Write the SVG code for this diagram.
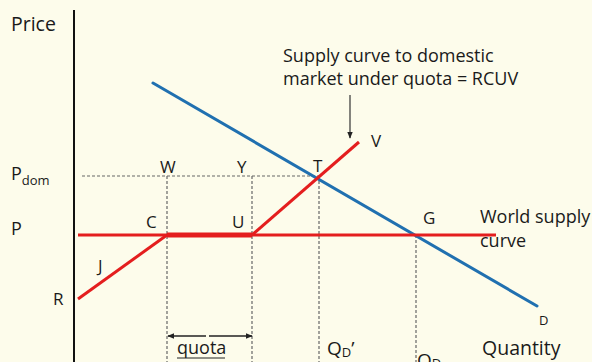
<svg xmlns="http://www.w3.org/2000/svg" width="592" height="362" viewBox="0 0 592 362">
<style>
text{font-family:"Open Sans","Liberation Sans",sans-serif;fill:#1a1a1a}
.lbl{font-size:18px}
.pt{font-size:17px}
.big{font-size:19.5px}
.dash{stroke:#666;stroke-width:1.2;stroke-dasharray:3 2;fill:none}
.red{stroke:#E41E1E;stroke-width:3;fill:none}
.blue{stroke:#2070B0;stroke-width:3;fill:none;stroke-linecap:round}
</style>
<defs>
<marker id="ah" viewBox="0 0 10 10" refX="9" refY="5" markerWidth="7" markerHeight="7" orient="auto-start-reverse" markerUnits="userSpaceOnUse">
<path d="M0,1 L10,5 L0,9 z" fill="#222"/>
</marker>
</defs>
<rect width="592" height="362" fill="#FDFCEB"/>
<g id="axes">
<line x1="74" y1="10" x2="74" y2="362" stroke="#111" stroke-width="2"/>
<text x="11" y="31" class="big">Price</text>
<text x="482" y="355" class="big">Quantity</text>
</g>
<g id="guides">
<line class="dash" x1="82" y1="176" x2="319" y2="176"/>
<line class="dash" x1="167" y1="176" x2="167" y2="362"/>
<line class="dash" x1="252" y1="176" x2="252" y2="362"/>
<line class="dash" x1="319" y1="176" x2="319" y2="362"/>
<line class="dash" x1="416" y1="235" x2="416" y2="362"/>
</g>
<g id="demand">
<line class="blue" x1="153" y1="83" x2="537" y2="306"/>
<text x="539" y="325" font-size="13">D</text>
</g>
<g id="world-supply">
<line class="red" x1="78" y1="235" x2="496" y2="235"/>
<text x="480" y="223" class="lbl">World supply</text>
<text x="480" y="247" class="lbl">curve</text>
</g>
<g id="quota-supply">
<line class="red" x1="78" y1="299" x2="167" y2="235"/>
<line x1="167" y1="235" x2="252" y2="235" stroke="#E41E1E" stroke-width="5"/>
<line class="red" x1="252" y1="235" x2="359" y2="142"/>
</g>
<g id="callout">
<text x="283" y="62" class="lbl">Supply curve to domestic</text>
<text x="283" y="85" class="lbl">market under quota = RCUV</text>
<line x1="350" y1="95" x2="350" y2="138" stroke="#333" stroke-width="1.2" marker-end="url(#ah)"/>
</g>
<g id="quota">
<line x1="168" y1="336" x2="206" y2="336" stroke="#222" stroke-width="1.5" marker-start="url(#ah)"/>
<line x1="209" y1="336" x2="252" y2="336" stroke="#222" stroke-width="1.5" marker-end="url(#ah)"/>
<text x="177" y="354" class="lbl">quota</text>
<line x1="177" y1="358" x2="225" y2="358" stroke="#222" stroke-width="1.2"/>
</g>
<g id="points">
<text x="11" y="180" class="lbl">P<tspan font-size="13" dy="5">dom</tspan></text>
<text x="11" y="235" class="lbl">P</text>
<text x="53" y="305" class="pt">R</text>
<text x="98" y="272" class="pt">J</text>
<text x="146" y="228" class="pt">C</text>
<text x="232" y="228" class="pt">U</text>
<text x="160" y="173" class="pt">W</text>
<text x="237" y="173" class="pt">Y</text>
<text x="313" y="172" class="pt">T</text>
<text x="371" y="147" class="pt">V</text>
<text x="423" y="224" class="pt">G</text>
<text x="327" y="355" font-size="19">Q<tspan font-size="13" dy="2">D</tspan><tspan dy="-2">’</tspan></text>
<text x="417" y="367" font-size="19">Q<tspan font-size="13" dy="1">D</tspan></text>
</g>
</svg>
